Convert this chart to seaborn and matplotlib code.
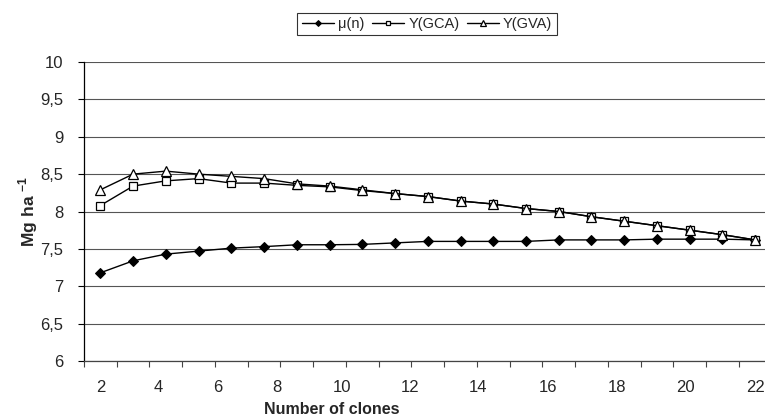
import numpy as np
import pandas as pd
import matplotlib
matplotlib.use("Agg")
import matplotlib.pyplot as plt
import seaborn as sns
from matplotlib.ticker import FixedLocator, FixedFormatter

# ---- data ----
clones = list(range(2, 23))
mu_n = [7.18, 7.34, 7.43, 7.47, 7.51, 7.53, 7.555, 7.555, 7.56, 7.58, 7.60,
        7.60, 7.60, 7.60, 7.62, 7.62, 7.62, 7.63, 7.63, 7.63, 7.62]
y_gca = [8.08, 8.34, 8.41, 8.44, 8.38, 8.38, 8.35, 8.33, 8.28, 8.24, 8.20,
         8.14, 8.10, 8.04, 8.00, 7.93, 7.87, 7.81, 7.75, 7.69, 7.62]
y_gva = [8.29, 8.50, 8.54, 8.50, 8.47, 8.44, 8.37, 8.34, 8.29, 8.24, 8.20,
         8.14, 8.10, 8.04, 8.00, 7.93, 7.87, 7.81, 7.75, 7.69, 7.62]
series_names = ["\u03bc(n)", "Y(GCA)", "Y(GVA)"]
x_tick_labels = ["2", "4", "6", "8", "10", "12", "14", "16", "18", "20", "22"]
y_ticks = [6, 6.5, 7, 7.5, 8, 8.5, 9, 9.5, 10]
y_tick_labels = ["6", "6,5", "7", "7,5", "8", "8,5", "9", "9,5", "10"]

# ---- style ----
sns.set_style("white")
plt.rcParams['font.family'] = ['Liberation Sans', 'DejaVu Sans']
plt.rcParams['mathtext.fontset'] = 'custom'
plt.rcParams['mathtext.rm'] = 'Liberation Sans'
plt.rcParams['mathtext.bf'] = 'Liberation Sans:bold'

fig = plt.figure(figsize=(7.65, 4.17), dpi=100)
ax = fig.add_axes([84 / 765, (417 - 361) / 417, (765 - 84) / 765, (361 - 62) / 417])

df = pd.DataFrame({"clones": clones, "mu": mu_n, "gca": y_gca, "gva": y_gva})

styles = [
    ("mu", dict(marker="D", markersize=5, markerfacecolor="black", markeredgecolor="black")),
    ("gca", dict(marker="s", markersize=6, markerfacecolor="white", markeredgecolor="black", markeredgewidth=0.9)),
    ("gva", dict(marker="^", markersize=7, markerfacecolor="white", markeredgecolor="black", markeredgewidth=0.9)),
]
for (col, kw), name in zip(styles, series_names):
    sns.lineplot(data=df, x="clones", y=col, ax=ax, color="black", linewidth=1.0,
                 label=name, legend=False, **kw)

# axes limits
ax.set_xlim(1.5, 22.30)
ax.set_ylim(6, 10)

# y axis
ax.yaxis.set_major_locator(FixedLocator(y_ticks))
ax.yaxis.set_major_formatter(FixedFormatter(y_tick_labels))
ax.tick_params(axis="y", which="major", direction="out", length=4, width=0.8,
               color="black", labelsize=12, pad=11, left=True)
ax.grid(axis="y", color="#555555", linewidth=0.8)
ax.grid(axis="x", visible=False)

# x axis: labels at reference positions, tick marks at category boundaries
label_pos = [2, 3.77, 5.58, 7.38, 9.38, 11.46, 13.53, 15.67, 17.78, 19.86, 22]
ax.xaxis.set_major_locator(FixedLocator(label_pos))
ax.xaxis.set_major_formatter(FixedFormatter(x_tick_labels))
ax.xaxis.set_minor_locator(FixedLocator([1.5 + j for j in range(22)]))
ax.tick_params(axis="x", which="major", length=0, labelsize=12, pad=14)
ax.tick_params(axis="x", which="minor", direction="out", length=4, width=0.8,
               color="#444444", bottom=True)

for s in ["top", "right"]:
    ax.spines[s].set_visible(False)
ax.spines["left"].set_color("black")
ax.spines["left"].set_linewidth(0.9)
ax.spines["bottom"].set_color("#444444")
ax.spines["bottom"].set_linewidth(0.9)

ax.set_xlabel("Number of clones", fontsize=11.5, fontweight="bold")
ax.xaxis.set_label_coords((332 - 84) / (765 - 84), -0.137)
ax.set_ylabel(r"$\mathbf{Mg\ ha}^{\ \mathbf{-1}}$", fontsize=12.5)
ax.yaxis.set_label_coords((40 - 84) / (765 - 84), 0.5)

handles, labels = ax.get_legend_handles_labels()
leg = fig.legend(handles, labels, loc="center", bbox_to_anchor=(427 / 765, 1 - 24 / 417),
                 ncol=3, frameon=True, fancybox=False, edgecolor="black",
                 fontsize=10.5, markerscale=0.6, handlelength=2.2, handletextpad=0.3,
                 columnspacing=0.5, borderpad=0.3)
leg.get_frame().set_linewidth(0.8)

fig.savefig("out.png", dpi=100)
